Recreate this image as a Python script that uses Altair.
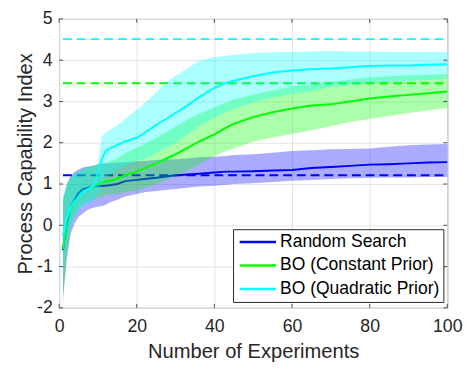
import altair as alt
import pandas as pd

# ---------------- data ----------------
x = [1, 2, 3, 4, 5, 6, 7, 8, 9, 10, 11, 12, 13, 15, 17, 20, 22, 25, 28, 30,
     33, 36, 40, 43, 45, 50, 55, 60, 65, 70, 75, 80, 85, 90, 95, 100]

rs_mean = [-0.6, 0.05, 0.45, 0.62, 0.78, 0.87, 0.9, 0.93, 0.94, 0.95, 0.95, 0.96, 0.97, 1.0, 1.07, 1.1,
           1.12, 1.15, 1.19, 1.21, 1.23, 1.25, 1.28, 1.3, 1.3, 1.31, 1.33, 1.34, 1.39, 1.41, 1.44, 1.47,
           1.48, 1.5, 1.52, 1.53]
rs_upper = [0.6, 1.0, 1.2, 1.3, 1.35, 1.4, 1.42, 1.43, 1.45, 1.47, 1.5, 1.5, 1.5, 1.52, 1.53, 1.55,
            1.56, 1.58, 1.6, 1.6, 1.62, 1.65, 1.66, 1.68, 1.7, 1.72, 1.76, 1.8, 1.82, 1.84, 1.85, 1.86,
            1.9, 1.94, 1.96, 1.97]
rs_lower = [-1.75, -0.8, -0.2, 0.05, 0.2, 0.28, 0.35, 0.4, 0.43, 0.45, 0.46, 0.5, 0.55, 0.62, 0.7, 0.76,
            0.8, 0.83, 0.86, 0.88, 0.91, 0.94, 0.96, 0.98, 1.0, 1.02, 1.05, 1.08, 1.1, 1.12, 1.14, 1.15,
            1.16, 1.16, 1.17, 1.17]

cp_mean = [-0.57, 0.14, 0.4, 0.57, 0.68, 0.78, 0.84, 0.9, 0.95, 1.0, 1.04, 1.06, 1.08, 1.12, 1.22, 1.3,
           1.38, 1.5, 1.63, 1.72, 1.87, 2.03, 2.2, 2.36, 2.46, 2.62, 2.74, 2.83, 2.9, 2.93, 3.0, 3.07,
           3.12, 3.16, 3.2, 3.24]
cp_upper = [0.6, 1.0, 1.15, 1.25, 1.3, 1.35, 1.4, 1.43, 1.45, 1.48, 1.5, 1.52, 1.55, 1.62, 1.75, 1.88,
            1.97, 2.12, 2.28, 2.4, 2.55, 2.7, 2.86, 2.97, 3.05, 3.16, 3.27, 3.36, 3.41, 3.48, 3.53, 3.58,
            3.61, 3.63, 3.65, 3.66]
cp_lower = [-1.9, -0.7, 0.0, 0.25, 0.4, 0.5, 0.56, 0.6, 0.65, 0.68, 0.7, 0.72, 0.74, 0.77, 0.8, 0.85,
            0.9, 1.0, 1.12, 1.2, 1.33, 1.47, 1.68, 1.8, 1.86, 2.03, 2.13, 2.21, 2.3, 2.4, 2.5, 2.58,
            2.65, 2.72, 2.78, 2.84]

qp_mean = [-0.26, 0.2, 0.45, 0.58, 0.68, 0.78, 0.84, 0.9, 0.97, 1.25, 1.6, 1.8, 1.85, 1.95, 2.03, 2.12,
           2.24, 2.43, 2.6, 2.72, 2.9, 3.1, 3.33, 3.45, 3.5, 3.61, 3.7, 3.75, 3.78, 3.8, 3.83, 3.86,
           3.87, 3.87, 3.89, 3.9]
qp_upper = [0.7, 1.0, 1.15, 1.25, 1.3, 1.35, 1.38, 1.4, 1.42, 1.5, 2.15, 2.25, 2.3, 2.42, 2.58, 2.8,
            2.95, 3.22, 3.5, 3.62, 3.8, 3.98, 4.08, 4.11, 4.13, 4.17, 4.19, 4.2, 4.21, 4.22, 4.21, 4.21,
            4.2, 4.2, 4.2, 4.19]
qp_lower = [-1.3, -0.4, 0.0, 0.2, 0.35, 0.45, 0.5, 0.55, 0.6, 0.75, 1.0, 1.15, 1.22, 1.35, 1.45, 1.55,
            1.6, 1.75, 1.9, 2.0, 2.2, 2.4, 2.6, 2.75, 2.82, 2.98, 3.1, 3.18, 3.25, 3.35, 3.4, 3.45,
            3.48, 3.5, 3.52, 3.55]

names = ["Random Search", "BO (Constant Prior)", "BO (Quadratic Prior)"]
targets = [1.21, 3.44, 4.51]
target_start = [1, 1, 1]
target_end = [100, 100, 100]
colors = ["#0000ff", "#00ff00", "#00ffff"]

x_ticks = [0, 20, 40, 60, 80, 100]
y_ticks = [-2, -1, 0, 1, 2, 3, 4, 5]

# ---------------- tables ----------------
series_data = [(rs_mean, rs_upper, rs_lower), (cp_mean, cp_upper, cp_lower), (qp_mean, qp_upper, qp_lower)]
rows = []
for name, (m, u, l) in zip(names, series_data):
    for xi, mi, ui, li in zip(x, m, u, l):
        rows.append({"series": name, "x": xi, "mean": mi, "upper": ui, "lower": li})
df = pd.DataFrame(rows)
tgt = pd.DataFrame({"series": names, "target": targets, "x0": target_start, "x1": target_end})
xt = pd.DataFrame({"v": x_ticks})
yt = pd.DataFrame({"v": y_ticks})

W, H = 395, 294
FONT = "Liberation Sans"
TXT = "#262626"

xscale = alt.Scale(domain=[0, 100], nice=False, zero=False)
yscale = alt.Scale(domain=[-2, 5], nice=False, zero=False)
cscale = alt.Scale(domain=names, range=colors)

xaxis = alt.Axis(values=x_ticks, title="Number of Experiments", grid=True, ticks=False, domain=False,
                 labelPadding=10, titlePadding=7, labelFlush=False, labelExpr="'' + datum.value")
yaxis = alt.Axis(values=y_ticks, title="Process Capability Index", grid=True, ticks=False, domain=False,
                 labelPadding=7, titlePadding=1, labelExpr="'' + datum.value")

layers = []
for i, name in enumerate(names):
    b = alt.Chart(df).transform_filter(alt.datum.series == name)
    area = b.mark_area(fillOpacity=0.33, strokeWidth=0).encode(
        x=alt.X("x:Q", scale=xscale, axis=xaxis),
        y=alt.Y("lower:Q", scale=yscale, axis=yaxis),
        y2="upper:Q",
        fill=alt.value(colors[i]),
    )
    line = b.mark_line(strokeWidth=2).encode(
        x=alt.X("x:Q", scale=xscale),
        y=alt.Y("mean:Q", scale=yscale),
        stroke=alt.Stroke("series:N", scale=cscale, legend=alt.Legend(title=None)),
    )
    rule = alt.Chart(tgt).transform_filter(alt.datum.series == name).mark_rule(
        strokeWidth=2, strokeDash=[9, 5]).encode(
        x=alt.X("x0:Q", scale=xscale),
        x2="x1:Q",
        y=alt.Y("target:Q", scale=yscale),
        stroke=alt.value(colors[i]),
    )
    layers += [area, line, rule]

TL = 4
tick_col = "#262626"
xb = alt.Chart(xt).mark_rule(color=tick_col, strokeWidth=0.8).encode(
    x=alt.X("v:Q", scale=xscale), y=alt.value(H), y2=alt.value(H - TL))
xtop = alt.Chart(xt).mark_rule(color=tick_col, strokeWidth=0.8).encode(
    x=alt.X("v:Q", scale=xscale), y=alt.value(0), y2=alt.value(TL))
yl = alt.Chart(yt).mark_rule(color=tick_col, strokeWidth=0.8).encode(
    y=alt.Y("v:Q", scale=yscale), x=alt.value(0), x2=alt.value(TL))
yr = alt.Chart(yt).mark_rule(color=tick_col, strokeWidth=0.8).encode(
    y=alt.Y("v:Q", scale=yscale), x=alt.value(W), x2=alt.value(W - TL))
layers += [xb, xtop, yl, yr]

chart = alt.layer(*layers).properties(
    width=W, height=H,
    autosize=alt.AutoSizeParams(type="none"),
    padding={"left": 52, "top": 8, "right": 17, "bottom": 52},
).configure_view(
    stroke="#808080", strokeWidth=1,
).configure_axis(
    labelFont=FONT, titleFont=FONT, labelFontSize=18, titleFontSize=20.5,
    labelColor=TXT, titleColor=TXT, titleFontWeight="normal",
    gridColor="#e3e3e3", gridWidth=1,
).configure_legend(
    orient="none", legendX=177, legendY=214,
    fillColor="white", strokeColor="#262626", strokeWidth=1, cornerRadius=0,
    padding=4, labelFont=FONT, labelFontSize=17.8, labelColor="black", labelLimit=400,
    symbolType="M-1,0H5", symbolSize=152, symbolStrokeWidth=2.5,
    labelOffset=26, rowPadding=5,
)

chart.save("out.html", embed_options={"renderer": "svg", "actions": False})
